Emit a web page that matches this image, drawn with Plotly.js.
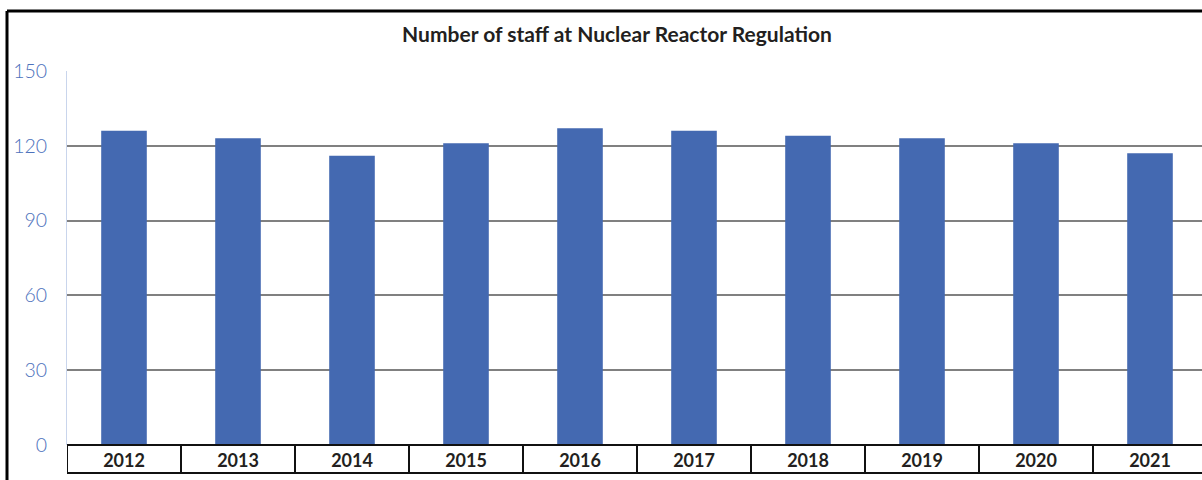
<!DOCTYPE html>
<html><head><meta charset="utf-8">
<script src="https://cdn.plot.ly/plotly-3.0.1.min.js"></script>
<style>html,body{margin:0;padding:0;overflow:hidden;background:#fff;width:1202px;height:480px}</style>
</head><body>
<div id="chart" style="width:1212px;height:480px"></div>
<script>
const years = ["2012","2013","2014","2015","2016","2017","2018","2019","2020","2021"];
const staff = [126,123,116,121,127,126,124,123,121,117];
const yTicks = [0,30,60,90,120,150];

const shapes = [];
const tableDepth = -28/374;
// table separators below the axis
for (let i = 0; i <= years.length; i++) {
  shapes.push({type:'line', xref:'x', yref:'paper', x0:i-0.5, x1:i-0.5, y0:0, y1:tableDepth,
    line:{color:'#111', width:2}});
}
shapes.push({type:'line', xref:'x', yref:'paper', x0:-0.5, x1:years.length-0.5, y0:0, y1:0, line:{color:'#111', width:2}});
shapes.push({type:'line', xref:'x', yref:'paper', x0:-0.5, x1:years.length-0.5, y0:tableDepth, y1:tableDepth, line:{color:'#111', width:2}});
// outer frame (top and left)
shapes.push({type:'line', xref:'paper', yref:'paper', x0:(7-67)/1140, x1:1.2, y0:(445-11)/374, y1:(445-11)/374, line:{color:'#000', width:3}});
shapes.push({type:'line', xref:'paper', yref:'paper', x0:(7-67)/1140, x1:(7-67)/1140, y0:(445-11)/374, y1:-0.3, line:{color:'#000', width:3}});

Plotly.newPlot('chart', [{
  type:'bar', x:years, y:staff, marker:{color:'#4469b1'}, width:0.4, hoverinfo:'x+y'
}], {
  width:1212, height:480,
  margin:{l:67, r:5, t:71, b:35},
  paper_bgcolor:'#fff', plot_bgcolor:'#fff',
  title:{text:'Number of staff at Nuclear Reactor Regulation', x:(617)/1212, xanchor:'center', y:1-35/480, yanchor:'middle',
    font:{family:'Lato, "Noto Sans", sans-serif', size:21, color:'#231f20', weight:'bold'}},
  showlegend:false,
  xaxis:{type:'category', showgrid:false, zeroline:false, showline:false, ticks:'',
    ticklabelstandoff:3,
    tickfont:{family:'Lato, "Noto Sans", sans-serif', size:18, color:'#231f20', weight:'bold'},
    range:[-0.5, years.length-0.5], fixedrange:true},
  yaxis:{range:[0,150], tickvals:yTicks, ticktext:yTicks.map(String), showgrid:true, gridcolor:'#808080', gridwidth:2,
    zeroline:false, showline:true, linecolor:'#c9d5ec', linewidth:1, ticks:'', ticklabelstandoff:15,
    tickfont:{family:'Lato, "Noto Sans", sans-serif', size:19.5, color:'#4d71bc', weight:300}, fixedrange:true},
  shapes:shapes
}, {displayModeBar:false, staticPlot:true});
</script>
</body></html>
